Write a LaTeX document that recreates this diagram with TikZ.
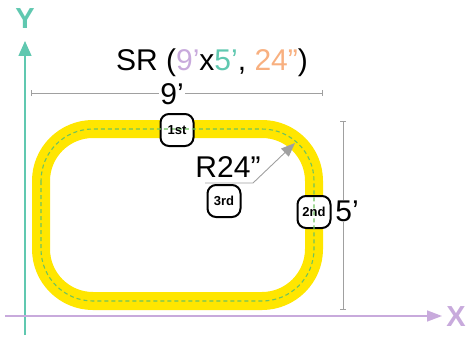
\documentclass[tikz,border=0pt]{standalone}
\usepackage{fontspec}
\setmainfont{Liberation Sans}
\usetikzlibrary{arrows.meta}
\definecolor{teal}{RGB}{96,200,176}
\definecolor{lav}{RGB}{200,170,220}
\definecolor{orng}{RGB}{248,176,128}
\definecolor{trk}{RGB}{255,230,0}
\definecolor{dashg}{RGB}{110,195,95}
\definecolor{dimg}{RGB}{160,160,160}
\tikzset{
  trackline/.style={draw=trk,line width=18pt,rounded corners=52pt},
  centerline/.style={draw=dashg,line width=1.1pt,dash pattern=on 4pt off 3pt,rounded corners=52pt},
  posbox/.style={draw=black,line width=2pt,fill=white,rounded corners=8.5pt,minimum width=33pt,minimum height=32pt,inner sep=0pt},
  poslabel/.style={font=\fontsize{13}{15}\selectfont\bfseries,inner sep=0pt},
  bigtext/.style={font=\fontsize{30}{36}\selectfont,inner sep=0pt},
  dimline/.style={draw=dimg,line width=0.9pt,{Bar[width=6pt]}-{Bar[width=6pt]}},
  axislbl/.style={font=\fontsize{29}{34}\selectfont\bfseries,inner sep=0pt}
}
\begin{document}
\begin{tikzpicture}[x=1pt,y=-1pt]
\useasboundingbox (0,0) rectangle (466,337);
% axes
\coordinate (yo) at (25,335);
\coordinate (yt) at (25,41);
\coordinate (xo) at (5,316);
\coordinate (xt) at (442,316);
\draw[teal,line width=1.4pt,-{Triangle[length=15pt,width=13pt]}] (yo) -- (yt);
\draw[lav,line width=1.4pt,-{Triangle[length=15pt,width=11pt]}] (xo) -- (xt);
\node[axislbl,text=teal] (ylbl) at (25,19) {Y};
\node[axislbl,text=lav] (xlbl) at (456,317) {X};
% track
\draw[trackline] (41,129) rectangle (314,301);
% boxes
\node[posbox] (b1) at (177,130) {};
\node[posbox] (b2) at (314,212) {};
\node[posbox] (b3) at (224,201) {};
\draw[centerline] (41,129) rectangle (314,301);
\node[poslabel] (t1) at (b1) {1st};
\node[poslabel] (t2) at (b2) {2nd};
\node[poslabel] (t3) at (b3) {3rd};
% title
\node[bigtext] (title) at (212,63) {SR (\textcolor{lav}{9’}x\textcolor{teal}{5’}, \textcolor{orng}{24”})};
% 9' dimension
\coordinate (d9a) at (31,93);
\coordinate (d9b) at (323,93);
\draw[dimline] (d9a) -- (d9b);
\node[bigtext,fill=white,inner sep=1pt] (n9) at (172,94) {9’};
% 5' dimension
\coordinate (d5a) at (343,121);
\coordinate (d5b) at (343,310);
\draw[dimline] (d5a) -- (d5b);
\node[bigtext,fill=white,inner sep=1pt] (n5) at (347,211) {5’};
% radius leader
\node[bigtext] (r24) at (228,167) {R24”};
\coordinate (ra) at (205,183);
\coordinate (rb) at (253,183);
\coordinate (rc) at (295,143);
\draw[dimg,line width=0.9pt,-{Triangle[length=14pt,width=11pt]}] (ra) -- (rb) -- (rc);
\end{tikzpicture}
\end{document}
